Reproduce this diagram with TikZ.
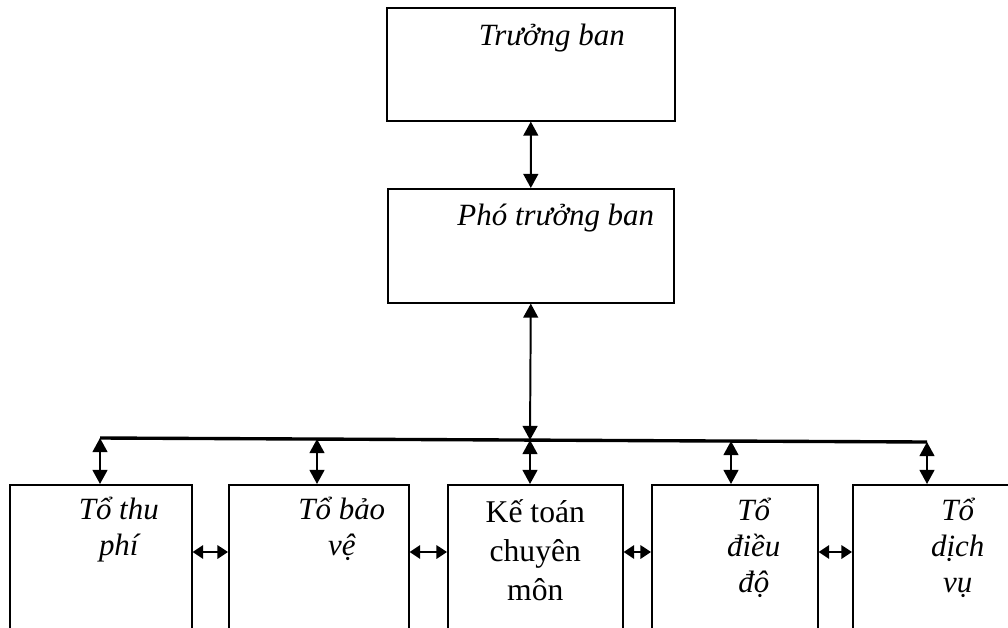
\documentclass[tikz,border=0pt]{standalone}
\usepackage{fontspec}
\setmainfont{Liberation Serif}
\usetikzlibrary{calc}
\usetikzlibrary{positioning}
\usetikzlibrary{arrows.meta}

\begin{document}
\begin{tikzpicture}[x=0.025cm, y=-0.025cm,
      box/.style={rectangle, draw, line width=1.1pt, anchor=north west, inner sep=0pt},
      biarrow/.style={{Triangle[length=10pt,width=10.5pt]}-{Triangle[length=10pt,width=10.5pt]}, line width=1.4pt},
      sidearrow/.style={{Triangle[length=7.5pt,width=9.5pt]}-{Triangle[length=7.5pt,width=9.5pt]}, line width=1.4pt},
      lbl/.style={anchor=base, align=center, inner sep=0pt, font=\fontsize{22}{25.6}\selectfont\itshape}]
      \useasboundingbox (0,0) rectangle (1008,627);
      \clip (0,0) rectangle (1008,627);
      \node[box, minimum width=7.2cm, minimum height=2.825cm] (tb) at (386,7) {};
      \node[box, minimum width=7.15cm, minimum height=2.85cm] (ptb) at (387,188) {};
      \node[box, minimum width=4.55cm, minimum height=5cm] (t1) at (9,484) {};
      \node[box, minimum width=4.5cm, minimum height=5cm] (t2) at (228,484) {};
      \node[box, minimum width=4.375cm, minimum height=5cm] (t3) at (447,484) {};
      \node[box, minimum width=4.15cm, minimum height=5cm] (t4) at (651,484) {};
      \node[box, minimum width=4.75cm, minimum height=5cm] (t5) at (852,484) {};
      \node[lbl] (tbl) at ($(tb.north)+(21,38)$) {Trưởng ban};
      \node[lbl] (ptbl) at ($(ptb.north)+(25,37)$) {Phó trưởng ban};
      \node[lbl] (t1l) at ($(t1.north)+(18,71)$) {Tổ thu\\phí};
      \node[lbl] (t2l) at ($(t2.north)+(23,71)$) {Tổ bảo\\vệ};
      \node[lbl, font=\fontsize{22.5}{27.4}\selectfont] (t3l) at ($(t3.north)+(0,116)$) {Kế toán\\chuyên\\môn};
      \node[lbl] (t4l) at ($(t4.north)+(19,108)$) {Tổ\\điều\\độ};
      \node[lbl] (t5l) at ($(t5.north)+(10,108)$) {Tổ\\dịch\\vụ};
      \coordinate (b1) at (100,438);
      \coordinate (b2) at (317,439);
      \coordinate (b3) at (530,440);
      \coordinate (b4) at (731,441);
      \coordinate (b5) at (927,442);
      \coordinate (hr) at (0,552);
      \draw[line width=2.4pt] (b1) -- (b5);
      \draw[biarrow] (tb.south) -- (ptb.north);
      \draw[biarrow] (ptb.south) -- (b3);
      \foreach \i in {1,...,5}
        \draw[biarrow] (b\i) -- (b\i |- t\i.north);
      \foreach \i/\j in {1/2,2/3,3/4,4/5}
        \draw[sidearrow] (t\i.east |- hr) -- (t\j.west |- hr);
    \end{tikzpicture}
\end{document}
